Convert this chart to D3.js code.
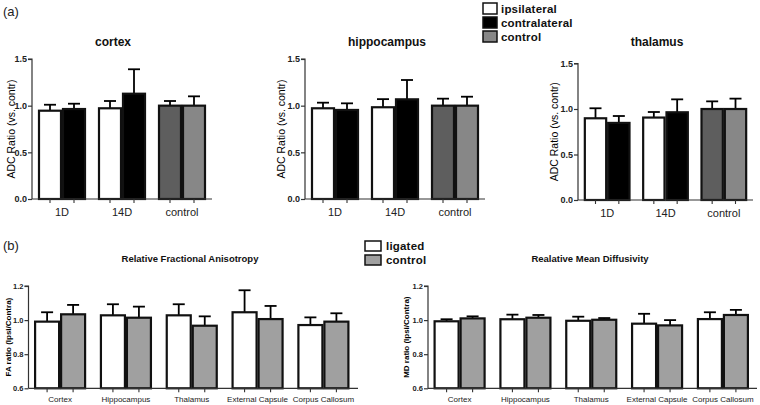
<!DOCTYPE html>
<html><head><meta charset="utf-8">
<script src="https://cdn.jsdelivr.net/npm/d3@7"></script>
<style>body{margin:0;background:#fff}svg{display:block;font-family:"Liberation Sans",Arial,sans-serif}</style>
</head><body>
<svg id="c" width="760" height="405"></svg>
<script>
// ---------- DATA ----------
const adcGroups = ["1D", "14D", "control"];
const adcTicks = [0, 0.5, 1.0, 1.5];
const adcLegend = ["ipsilateral", "contralateral", "control"];
// first bar of each group (ipsilateral / control-left), second bar (contralateral / control-right)
const cortexIpsi = [0.946, 0.972, 1.0];
const cortexIpsiSD = [0.064, 0.078, 0.05];
const cortexContra = [0.964, 1.128, 1.0];
const cortexContraSD = [0.057, 0.262, 0.10];
const hippoIpsi = [0.972, 0.983, 1.0];
const hippoIpsiSD = [0.06, 0.087, 0.075];
const hippoContra = [0.954, 1.068, 1.0];
const hippoContraSD = [0.071, 0.207, 0.096];
const thalIpsi = [0.898, 0.906, 1.0];
const thalIpsiSD = [0.11, 0.061, 0.084];
const thalContra = [0.847, 0.964, 1.0];
const thalContraSD = [0.076, 0.142, 0.114];

const regions = ["Cortex", "Hippocampus", "Thalamus", "External Capsule", "Corpus Callosum"];
const ratioTicks = [0.6, 0.8, 1.0, 1.2];
const bLegend = ["ligated", "control"];
const faLigated = [0.991, 1.028, 1.028, 1.046, 0.971];
const faLigatedSD = [0.055, 0.065, 0.065, 0.129, 0.045];
const faControl = [1.034, 1.014, 0.967, 1.006, 0.991];
const faControlSD = [0.055, 0.065, 0.055, 0.077, 0.049];
const mdLigated = [0.993, 1.005, 0.996, 0.979, 1.006];
const mdLigatedSD = [0.012, 0.027, 0.024, 0.058, 0.04];
const mdControl = [1.01, 1.014, 1.002, 0.969, 1.03];
const mdControlSD = [0.012, 0.016, 0.010, 0.031, 0.030];

// ---------- DRAW ----------
const svg = d3.select("#c");

function panel(o) {
  const g = svg.append("g");
  const x = d3.scaleBand().domain(o.cats).range(o.xr).paddingInner(o.pi).paddingOuter(o.po);
  const y = d3.scaleLinear().domain(o.yd).range(o.yr);
  const bw = x.bandwidth() / 2;
  const rows = [];
  o.cats.forEach((c, i) => {
    rows.push({c, k: 0, v: o.s1[i], e: o.e1[i], fill: o.f1[i]});
    rows.push({c, k: 1, v: o.s2[i], e: o.e2[i], fill: o.f2[i]});
  });
  rows.forEach(r => {
    const cx = x(r.c) + r.k * bw + bw / 2;
    g.append("line").attr("x1", cx).attr("x2", cx).attr("y1", y(r.v)).attr("y2", y(r.v + r.e))
      .attr("stroke", "#000").attr("stroke-width", 1.8);
    g.append("line").attr("x1", cx - o.cap).attr("x2", cx + o.cap).attr("y1", y(r.v + r.e)).attr("y2", y(r.v + r.e))
      .attr("stroke", "#000").attr("stroke-width", 1.8);
  });
  g.selectAll("rect.bar").data(rows).join("rect")
    .attr("x", d => x(d.c) + d.k * bw + 1)
    .attr("y", d => y(d.v))
    .attr("width", bw - 2)
    .attr("height", d => y(o.yd[0]) - y(d.v))
    .attr("fill", d => d.fill).attr("stroke", "#111").attr("stroke-width", 2.2);
  const ya = d3.axisLeft(y).tickValues(o.yticks).tickFormat(d3.format(".1f")).tickSize(4).tickPadding(1);
  const gy = g.append("g").attr("transform", `translate(${o.xr[0]},0)`).call(ya);
  gy.select(".domain").attr("stroke", "#333").attr("stroke-width", 1.2).attr("d", `M-4,${o.yr[1]}H0V${o.yr[0]}`);
  gy.selectAll(".tick line").attr("stroke", "#333").attr("stroke-width", 1.2);
  gy.selectAll("text").attr("font-size", o.ytfs).attr("font-weight", "bold").attr("fill", "#222")
    .attr("font-family", "Liberation Sans, Arial, sans-serif");
  g.append("line").attr("x1", o.xr[0]).attr("x2", o.xend).attr("y1", o.yr[0]).attr("y2", o.yr[0])
    .attr("stroke", "#333").attr("stroke-width", 1.2);
  rows.forEach(r => {
    const cx = x(r.c) + r.k * bw + bw / 2;
    g.append("line").attr("x1", cx).attr("x2", cx).attr("y1", o.yr[0]).attr("y2", o.yr[0] + 4)
      .attr("stroke", "#333").attr("stroke-width", 1.1);
  });
  o.cats.forEach(c => {
    g.append("text").attr("x", x(c) + x.bandwidth() / 2).attr("y", o.yr[0] + o.lblDy)
      .attr("text-anchor", "middle").attr("font-size", o.xfs).attr("fill", "#222").text(c);
  });
  const ym = (o.yr[0] + o.yr[1]) / 2;
  g.append("text").attr("transform", `translate(${o.ylx},${ym}) rotate(-90)`)
    .attr("text-anchor", "middle").attr("font-size", o.ylfs).attr("font-weight", o.ylfw)
    .attr("fill", "#000").text(o.ylabel);
  g.append("text").attr("x", o.tx).attr("y", o.ty).attr("text-anchor", "middle")
    .attr("font-size", o.tfs).attr("font-weight", "bold").attr("fill", "#111").text(o.title);
}

const aCommon = {cats: adcGroups, yd: [0, 1.5], yticks: adcTicks, pi: 0.2, po: 0.1, cap: 6,
  f1: ["#fff", "#fff", "#5e5e5e"], f2: ["#000", "#000", "#878787"],
  ytfs: 9, xfs: 11, lblDy: 17, ylfs: 10.5, ylfw: "normal", tfs: 12, ylabel: "ADC Ratio (vs. contr)"};

panel({...aCommon, xr: [32, 212], xend: 212, yr: [199, 59], s1: cortexIpsi, e1: cortexIpsiSD,
  s2: cortexContra, e2: cortexContraSD, ylx: 15, tx: 113, ty: 46, title: "cortex"});
panel({...aCommon, xr: [305, 485], xend: 485, yr: [199, 59], s1: hippoIpsi, e1: hippoIpsiSD,
  s2: hippoContra, e2: hippoContraSD, ylx: 285, tx: 387, ty: 46, title: "hippocampus"});
panel({...aCommon, xr: [578, 753], xend: 753, yr: [200, 63.5], s1: thalIpsi, e1: thalIpsiSD,
  s2: thalContra, e2: thalContraSD, ylx: 558, tx: 657, ty: 46, title: "thalamus"});

const bCommon = {cats: regions, yd: [0.6, 1.2], yticks: ratioTicks, pi: 0.21, po: 0.085, cap: 6,
  f1: regions.map(() => "#fff"), f2: regions.map(() => "#a0a0a0"),
  ytfs: 7.5, xfs: 8, lblDy: 14, ylfs: 8, ylfw: "bold", tfs: 9.5, yr: [388.3, 286]};

panel({...bCommon, xr: [28.5, 355], xend: 358, s1: faLigated, e1: faLigatedSD, s2: faControl, e2: faControlSD,
  ylx: 11, tx: 190, ty: 262, title: "Relative Fractional Anisotropy", ylabel: "FA ratio (Ipsi/Contra)"});
panel({...bCommon, xr: [428, 754.5], xend: 757, s1: mdLigated, e1: mdLigatedSD, s2: mdControl, e2: mdControlSD,
  ylx: 409, tx: 590, ty: 262, title: "Realative Mean Diffusivity", ylabel: "MD ratio (Ipsi/Contra)"});

svg.append("text").attr("x", 3).attr("y", 16).attr("font-size", 13).attr("fill", "#222").text("(a)");
svg.append("text").attr("x", 3).attr("y", 250).attr("font-size", 13).attr("fill", "#222").text("(b)");

const legA = svg.append("g");
const legAFill = ["#fff", "#000", "#878787"];
adcLegend.forEach((t, i) => {
  legA.append("rect").attr("x", 483).attr("y", 3 + i * 14).attr("width", 14).attr("height", 11)
    .attr("fill", legAFill[i]).attr("stroke", "#111").attr("stroke-width", 1.5);
  legA.append("text").attr("x", 501).attr("y", 13 + i * 14).attr("font-size", 11.5).attr("font-weight", "bold")
    .attr("letter-spacing", 0.2).attr("fill", "#111").text(t);
});
const legB = svg.append("g");
const legBFill = ["#fff", "#a0a0a0"];
bLegend.forEach((t, i) => {
  legB.append("rect").attr("x", 365).attr("y", 241 + i * 14).attr("width", 16).attr("height", 10)
    .attr("fill", legBFill[i]).attr("stroke", "#111").attr("stroke-width", 1.5);
  legB.append("text").attr("x", 386).attr("y", 250 + i * 14).attr("font-size", 11.5).attr("font-weight", "bold")
    .attr("letter-spacing", 0.2).attr("fill", "#111").text(t);
});
</script>
</body></html>
